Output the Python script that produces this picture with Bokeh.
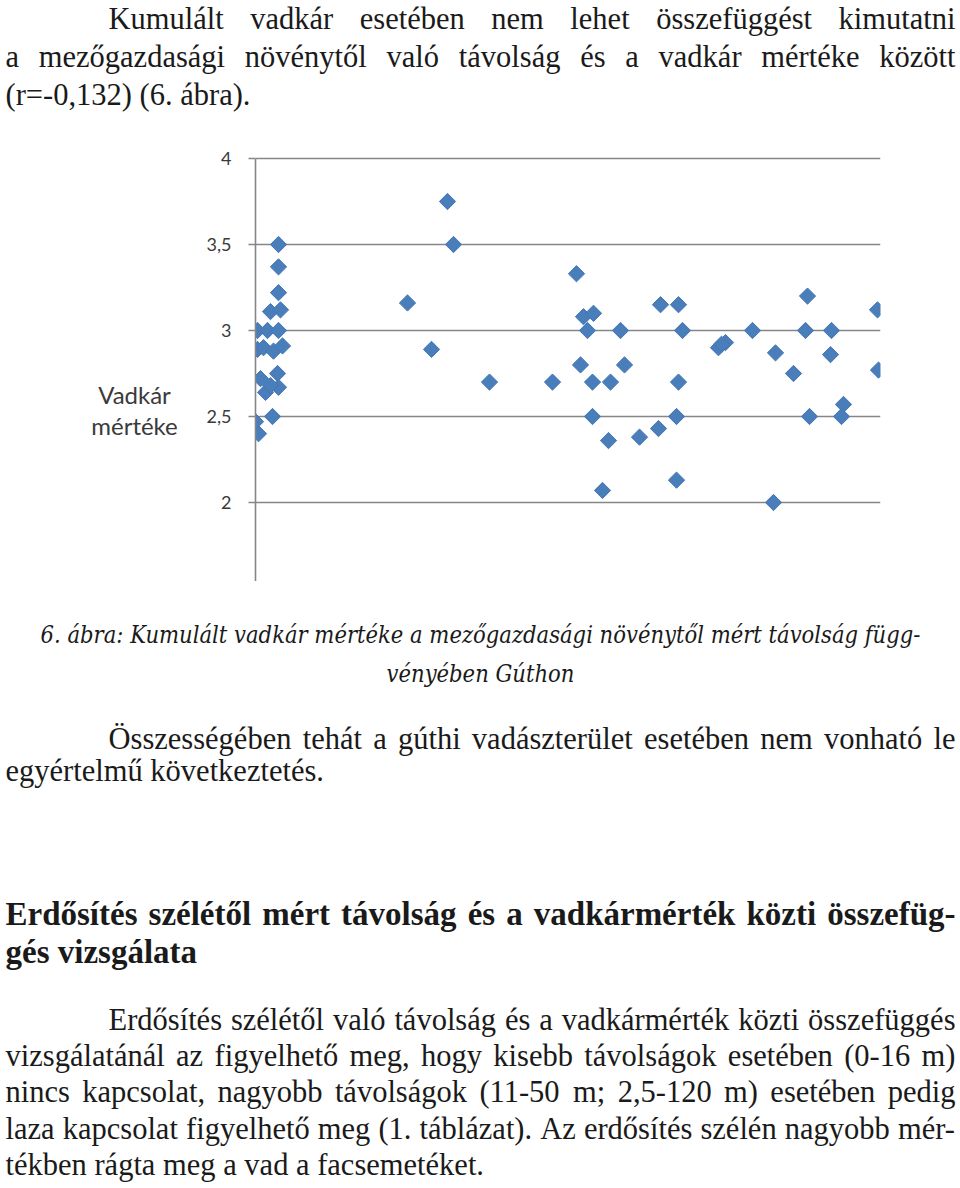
from bokeh.plotting import figure
from bokeh.layouts import column, row
from bokeh.models import Range1d, FixedTicker, ColumnDataSource, CustomJSTickFormatter
from bokeh.core.properties import value
from bokeh.embed import file_html
from bokeh.resources import INLINE

# ---------------- data ----------------
distance = [4.6, 4.6, 4.6, 3.0, 5.0, 0.4, 2.4, 4.6, 0.4, 1.6, 3.6, 5.4, 1.0, 4.4, 4.6, 2.0, 3.0, 3.4, 0.0, 0.6,
            30.4, 35.2, 38.4, 39.6, 46.8, 59.4, 64.2, 65.6, 67.6, 66.4, 65.0, 67.4, 71.0, 67.4, 70.6, 69.4,
            73.0, 73.8, 76.8, 80.6, 81.0, 84.6, 85.4, 84.6, 84.2, 84.2, 92.6, 94.0, 93.2, 99.4, 104.0,
            107.6, 103.6, 110.4, 110.0, 110.8, 115.2, 115.0, 117.6, 117.2, 124.4, 124.6]
damage = [3.50, 3.37, 3.22, 3.11, 3.12, 3.00, 3.00, 3.00, 2.89, 2.90, 2.88, 2.91, 2.72, 2.75, 2.67, 2.64, 2.68, 2.50, 2.47, 2.40,
          3.16, 2.89, 3.75, 3.50, 2.70, 2.70, 3.33, 3.08, 3.10, 3.00, 2.80, 2.70, 2.70, 2.50, 2.36, 2.07,
          3.00, 2.80, 2.38, 2.43, 3.15, 3.15, 3.00, 2.70, 2.50, 2.13, 2.90, 2.93, 2.92, 3.00, 2.87,
          2.75, 2.00, 3.20, 3.00, 2.50, 3.00, 2.86, 2.57, 2.50, 3.12, 2.77]

y_ticks = [2, 2.5, 3, 3.5, 4]
y_tick_labels = ["2", "2,5", "3", "3,5", "4"]
y_title = ["Vadkár", "mértéke"]

para_top = ["Kumulált vadkár esetében nem lehet összefüggést kimutatni",
            "a mezőgazdasági növénytől való távolság és a vadkár mértéke között",
            "(r=-0,132) (6. ábra)."]
caption = ["6. ábra: Kumulált vadkár mértéke a mezőgazdasági növénytől mért távolság függ-",
           "vényében Gúthon"]
para_mid = ["Összességében tehát a gúthi vadászterület esetében nem vonható le",
            "egyértelmű következtetés."]
heading = ["Erdősítés szélétől mért távolság és a vadkármérték közti összefüg-",
           "gés vizsgálata"]
para_bot = ["Erdősítés szélétől való távolság és a vadkármérték közti összefüggés",
            "vizsgálatánál az figyelhető meg, hogy kisebb távolságok esetében (0-16 m)",
            "nincs kapcsolat, nagyobb távolságok (11-50 m; 2,5-120 m) esetében pedig",
            "laza kapcsolat figyelhető meg (1. táblázat). Az erdősítés szélén nagyobb mér-",
            "tékben rágta meg a vad a facsemetéket."]

# ---------------- text metrics (Times / Liberation Serif) ----------------
def _tbl(s):
    d = {}
    for tok in s.split():
        d[tok[0]] = int(tok[1:])
    return d

REG = _tbl("a444 b500 c444 d500 e444 f333 g500 h500 i278 j278 k500 l278 m778 n500 o500 p500 q500 r333 s389 t278 "
           "u500 v500 w722 x500 y500 z444 A722 B667 C667 D722 E611 F556 G722 H722 I333 J389 K722 L611 M889 N722 "
           "O722 P556 Q722 R667 S556 T611 U722 V722 W944 X722 Y722 Z611 (333 )333 ,250 .250 -333 =564 ;278 :278")
BOLD = _tbl("a500 b556 c444 d556 e444 f333 g500 h556 i278 j333 k556 l278 m833 n556 o500 p556 q556 r444 s389 t333 "
            "u556 v500 w722 x500 y500 z444 A722 B667 C722 D722 E667 F611 G778 H778 I389 J500 K778 L667 M944 N722 "
            "O778 P611 Q778 R722 S556 T667 U722 V722 W1000 X722 Y722 Z667 (333 )333 ,250 .250 -333 :333 ;333")
ACC = str.maketrans("áéíóöőúüűÁÉÍÓÖŐÚÜŰ", "aeiooouuuAEIOOOUUU")


def word_w(word, tbl, size):
    return sum(tbl.get(ch, 500) for ch in word.translate(ACC)) * size / 1000.0


def layout(lines, tbl, size, left, right, baselines, indent=None, justify=None):
    out = []
    sp = 250 * size / 1000.0
    for i, line in enumerate(lines):
        ws = line.split(" ")
        widths = [word_w(w, tbl, size) for w in ws]
        x0 = left + (indent if (indent and i == 0) else 0)
        if justify and justify[i] and len(ws) > 1:
            gap = (right - x0 - sum(widths)) / (len(ws) - 1)
        else:
            gap = sp
        x = x0
        for w, wd in zip(ws, widths):
            out.append((w, x, baselines[i]))
            x += wd + gap
    return out


# ---------------- page geometry ----------------
W, H = 960, 1188
FT, FB, FL, FR = 140, 581, 255, 880     # chart frame in page pixels
PX_PER_X = 5.0
TITLE_W = 190                           # width of the strip holding the y title


def text_fig(width, height):
    f = figure(width=width, height=height, output_backend="svg", toolbar_location=None,
               x_range=Range1d(0, width), y_range=Range1d(height, 0),
               min_border_left=0, min_border_right=0, min_border_top=0, min_border_bottom=0)
    f.axis.visible = False
    f.grid.visible = False
    f.outline_line_color = None
    f.background_fill_color = "white"
    f.border_fill_color = "white"
    return f


def put_words(f, items, y_off, font, size, style, color="#1a1a1a", align="left"):
    src = ColumnDataSource(dict(x=[it[1] for it in items], y=[it[2] - y_off for it in items],
                                t=[it[0] for it in items]))
    f.text(x="x", y="y", text="t", source=src, text_font=value(font), text_font_size=value(f"{size}px"),
           text_font_style=style, text_color=color, text_align=align, text_baseline="middle")


L, R = 5, 955
BODY = 30.5

# top text (y = visual line centre)
top = text_fig(W, FT)
put_words(top, layout(para_top, REG, BODY, L, R, [18, 56, 94], indent=103, justify=[True, True, False]),
          0, "Liberation Serif", BODY, "normal")

# y title strip
ttl = text_fig(TITLE_W, FB - FT)
put_words(ttl, [(t, 134, yy) for t, yy in zip(y_title, [394, 425])], FT, "Lato", 24, "normal",
          color="#3a3a3a", align="center")

# chart
Y_TOP = 4 + (158 - FT) / 172.0
Y_BOT = 4 - (FB - 158) / 172.0
p = figure(width=W - TITLE_W, height=FB - FT, output_backend="svg", toolbar_location=None,
           x_range=Range1d(0, (FR - FL) / PX_PER_X), y_range=Range1d(Y_BOT, Y_TOP),
           min_border_left=FL - TITLE_W, min_border_right=W - FR, min_border_top=0, min_border_bottom=0)
p.outline_line_color = None
p.background_fill_color = "white"
p.border_fill_color = "white"
p.xaxis.visible = False
p.xgrid.visible = False

ticker = FixedTicker(ticks=y_ticks)
p.yaxis.ticker = ticker
p.ygrid.ticker = ticker
p.ygrid.grid_line_color = "#868686"
p.ygrid.grid_line_width = 1.6
p.yaxis.formatter = CustomJSTickFormatter(args=dict(tk=y_ticks, lb=y_tick_labels),
                                          code="const i = tk.indexOf(tick); return i >= 0 ? lb[i] : String(tick);")
p.yaxis.bounds = (Y_BOT, 4)
p.yaxis.axis_line_color = "#868686"
p.yaxis.axis_line_width = 1.6
p.yaxis.major_tick_line_color = "#868686"
p.yaxis.major_tick_line_width = 1.6
p.yaxis.major_tick_out = 7
p.yaxis.major_tick_in = 0
p.yaxis.minor_tick_out = 0
p.yaxis.minor_tick_in = 0
p.yaxis.major_label_text_font = "Lato"
p.yaxis.major_label_text_font_size = "18px"
p.yaxis.major_label_text_color = "#3a3a3a"
p.yaxis.major_label_standoff = 17

p.scatter(distance, damage, marker="square", angle=0.785398, size=11.5,
          fill_color="#4a7ebb", line_color="#4577b3", line_width=1)

# bottom text
bot = text_fig(W, H - FB)
put_words(bot, [(caption[0], 480, 634), (caption[1], 480, 673)], FB,
          "DejaVu Serif Condensed", 23.5, "italic", align="center")
put_words(bot, layout(para_mid, REG, BODY, L, R, [738, 770], indent=103, justify=[True, False]),
          FB, "Liberation Serif", BODY, "normal")
put_words(bot, layout(heading, BOLD, 33, L, R, [913, 951], justify=[True, False]),
          FB, "Liberation Serif", 33, "bold")
put_words(bot, layout(para_bot, REG, BODY, L, R, [1019, 1055, 1091, 1128, 1164], indent=103,
                      justify=[True, True, True, True, False]), FB, "Liberation Serif", BODY, "normal")

page = column(top, row(ttl, p), bot)
open("out.html", "w").write(file_html(page, INLINE))
